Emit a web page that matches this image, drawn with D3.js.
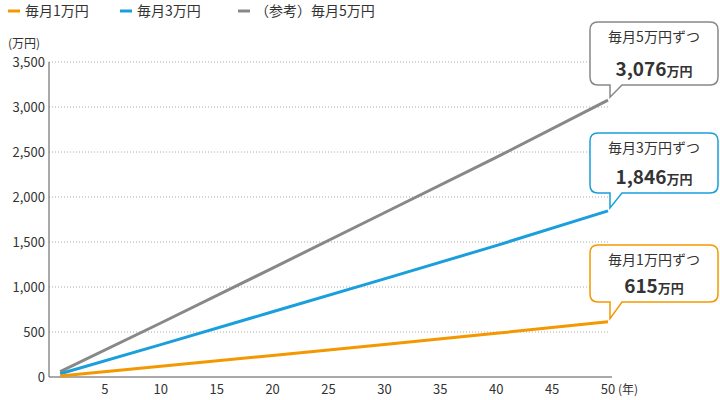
<!DOCTYPE html><html><head><meta charset="utf-8">
<script src="https://cdn.jsdelivr.net/npm/d3@7"></script>
<style>body{margin:0;background:#fff}text{font-family:"Noto Sans CJK JP","Noto Sans",sans-serif}</style></head><body>
<svg id="c" width="720" height="400"></svg>
<script>
const years=[1,10,20,30,40,50];
const s1=[12,120,240,360,485,615];
const s3=[36,360,725,1090,1460,1846];
const s5=[60,600,1210,1825,2440,3076];
const yTicks=[0,500,1000,1500,2000,2500,3000,3500];
const xTicks=[5,10,15,20,25,30,35,40,45,50];
const names=["毎月1万円","毎月3万円","（参考）毎月5万円"];
const callTitles=["毎月1万円ずつ","毎月3万円ずつ","毎月5万円ずつ"];
const callVals=["615","1,846","3,076"];
const colors=["#f39800","#1a9fdc","#888888"];
const svg=d3.select("#c");
const x=d3.scaleLinear().domain([0,50]).range([49,608]);
const y=d3.scaleLinear().domain([0,3500]).range([377,62]);
yTicks.forEach(t=>{
 if(t>0)svg.append("line").attr("x1",49).attr("x2",608).attr("y1",y(t)).attr("y2",y(t)).attr("stroke","#aaa").attr("stroke-dasharray","1,2");
 svg.append("text").attr("x",45).attr("y",y(t)+5).attr("text-anchor","end").attr("font-size",13).attr("fill","#333").text(d3.format(",")(t));
});
svg.append("line").attr("x1",49).attr("x2",612).attr("y1",377).attr("y2",377).attr("stroke","#555");
svg.append("line").attr("x1",49).attr("x2",49).attr("y1",62).attr("y2",377).attr("stroke","#555");
xTicks.forEach(t=>svg.append("text").attr("x",x(t)).attr("y",394).attr("text-anchor","middle").attr("font-size",13).attr("fill","#333").text(t));
svg.append("text").attr("x",618).attr("y",394).attr("font-size",12).attr("fill","#333").text("(年)");
svg.append("text").attr("x",8).attr("y",48).attr("font-size",12).attr("fill","#333").text("(万円)");
const series=[s1,s3,s5];
const line=d3.line().x((d,i)=>x(years[i])).y(d=>y(d));
series.slice().reverse().forEach((s,k)=>{const i=2-k;
 svg.append("path").attr("d",line(s)).attr("fill","none").attr("stroke",colors[i]).attr("stroke-width",3);});
const lx=[8,120,238];
names.forEach((n,i)=>{
 svg.append("line").attr("x1",lx[i]).attr("x2",lx[i]+12).attr("y1",11).attr("y2",11).attr("stroke",colors[i]).attr("stroke-width",3);
 svg.append("text").attr("x",lx[i]+17).attr("y",16).attr("font-size",14).attr("fill","#333").text(n);
});
const boxTop=[245,133,22], boxH=[57,60,63];
series.forEach((s,i)=>{
 const bx=590,bw=128,by=boxTop[i],bh=boxH[i],r=8;
 const tx=x(50)+2, ty=y(s[s.length-1])-3;
 const p=`M${bx+r},${by}H${bx+bw-r}Q${bx+bw},${by} ${bx+bw},${by+r}V${by+bh-r}Q${bx+bw},${by+bh} ${bx+bw-r},${by+bh}H${bx+32}L${tx},${ty}L${bx+20},${by+bh}H${bx+r}Q${bx},${by+bh} ${bx},${by+bh-r}V${by+r}Q${bx},${by} ${bx+r},${by}Z`;
 svg.append("path").attr("d",p).attr("fill","#fff").attr("stroke",colors[i]).attr("stroke-width",1.5);
 svg.append("text").attr("x",bx+bw/2).attr("y",by+20).attr("text-anchor","middle").attr("font-size",14).attr("fill","#333").text(callTitles[i]);
 const t=svg.append("text").attr("x",bx+bw/2).attr("y",by+bh-9).attr("text-anchor","middle").attr("fill","#333").attr("font-weight","bold");
 t.append("tspan").attr("font-size",19).text(callVals[i]);
 t.append("tspan").attr("font-size",13).text("万円");
});
</script></body></html>
